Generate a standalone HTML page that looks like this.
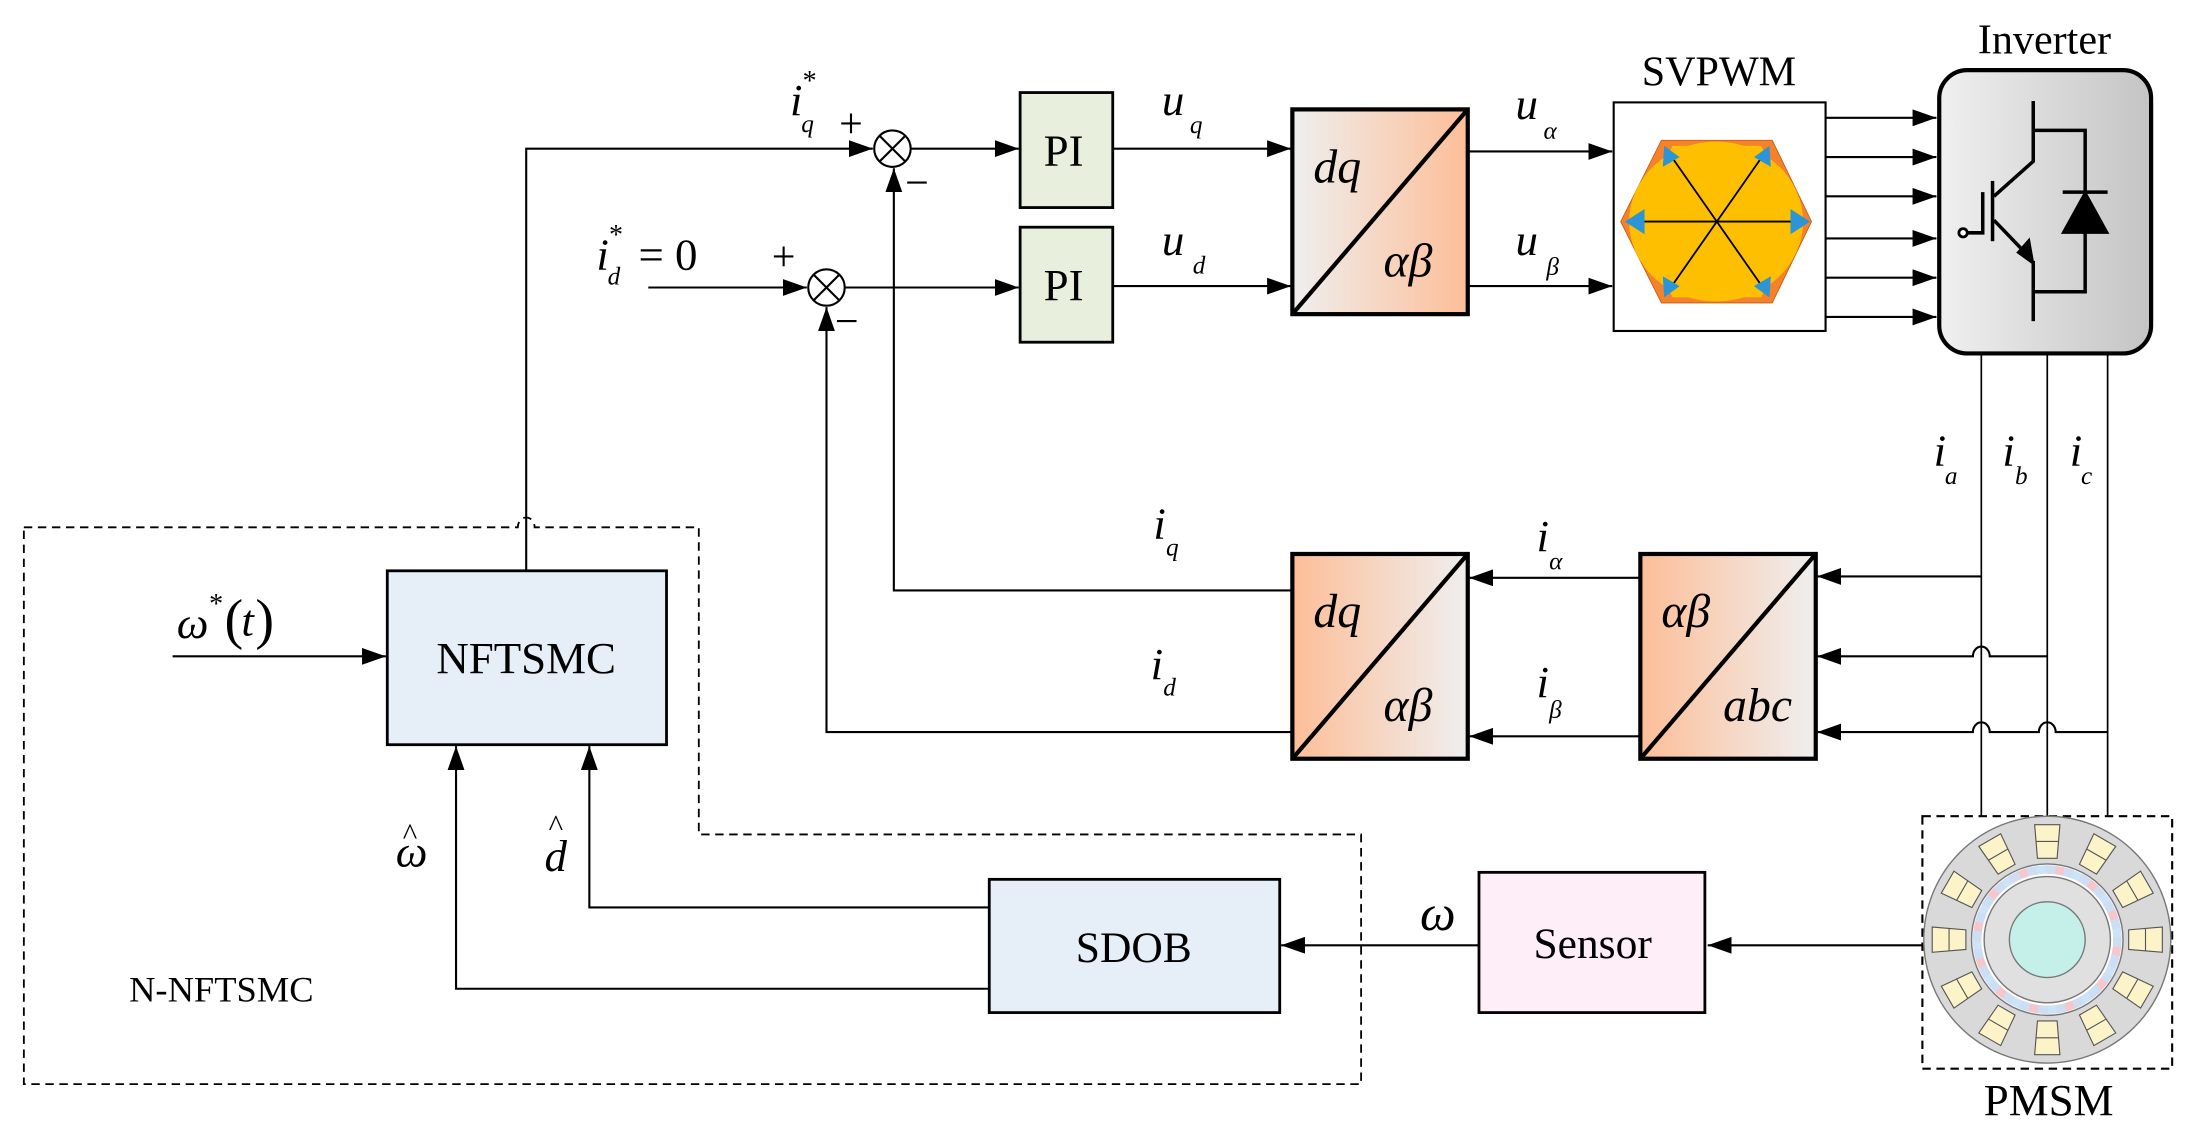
<!DOCTYPE html>
<html><head><meta charset="utf-8"><style>
html,body{margin:0;padding:0;background:#fff;}
svg{display:block;}
text{font-family:"Liberation Serif",serif;fill:#000;}
.it{font-style:italic;}
</style></head><body>
<svg width="2189" height="1136" viewBox="0 0 1560 810" preserveAspectRatio="none" xmlns="http://www.w3.org/2000/svg">
<defs>
<marker id="ar" markerWidth="17" markerHeight="12" refX="17" refY="6" orient="auto" markerUnits="userSpaceOnUse">
<path d="M0,0 L17,6 L0,12 Z" fill="#000"/></marker>
<linearGradient id="gOr" x1="0" x2="1" y1="0" y2="0"><stop offset="0" stop-color="#efefef"/><stop offset="1" stop-color="#fdbe98"/></linearGradient>
<linearGradient id="gOrR" x1="0" x2="1" y1="0" y2="0"><stop offset="0" stop-color="#fdbe98"/><stop offset="1" stop-color="#efefef"/></linearGradient>
<linearGradient id="gGr" x1="0" x2="1" y1="0" y2="0"><stop offset="0" stop-color="#f0f0f0"/><stop offset="1" stop-color="#c4c4c4"/></linearGradient>
</defs>
<g stroke="#000" stroke-width="1.5" fill="none">
<path d="M375,407 V106 H622" marker-end="url(#ar)"/>
<circle cx="636" cy="106" r="13" fill="#fff"/>
<path d="M627,97 L645,115 M645,97 L627,115"/>
<path d="M649,106 H726" marker-end="url(#ar)"/>
<path d="M462,205 H575" marker-end="url(#ar)"/>
<circle cx="589" cy="205" r="13" fill="#fff"/>
<path d="M580,196 L598,214 M598,196 L580,214"/>
<path d="M602,205 H726" marker-end="url(#ar)"/>
<rect x="727" y="66" width="66" height="82" fill="#e8f0dd" stroke-width="2"/>
<rect x="727" y="162" width="66" height="82" fill="#e8f0dd" stroke-width="2"/>
<path d="M793,106 H920" marker-end="url(#ar)"/>
<path d="M793,204 H920" marker-end="url(#ar)"/>
<rect x="921" y="78" width="125" height="146" fill="url(#gOr)" stroke-width="3"/>
<path d="M921,224 L1046,78" stroke-width="3"/>
<path d="M1046,108 H1149" marker-end="url(#ar)"/>
<path d="M1046,204 H1149" marker-end="url(#ar)"/>
<rect x="1150" y="73" width="151" height="163" fill="#fff"/>
<path d="M1301,84 H1380" marker-end="url(#ar)"/>
<path d="M1301,112 H1380" marker-end="url(#ar)"/>
<path d="M1301,140 H1380" marker-end="url(#ar)"/>
<path d="M1301,170 H1380" marker-end="url(#ar)"/>
<path d="M1301,198 H1380" marker-end="url(#ar)"/>
<path d="M1301,226 H1380" marker-end="url(#ar)"/>
<rect x="1382" y="50" width="151" height="202" rx="20" fill="url(#gGr)" stroke-width="3"/>
<g stroke-width="2.5">
<path d="M1449,72 V115 L1421,140"/>
<path d="M1420,129 V172"/>
<path d="M1413,137 V166 H1402"/>
<path d="M1421,157 L1445,182"/>
<path d="M1449,186 V229"/>
<path d="M1449,93 H1486 V208 H1449"/>
<path d="M1470,137 H1502"/>
</g>
<circle cx="1399" cy="166" r="3" fill="#fff" stroke-width="2"/>
<path d="M1486,137 L1502,166 L1470,166 Z" fill="#000"/>
<path d="M1449,188 L1438,180 L1446,171 Z" fill="#000"/>
<path d="M1412,252 V582 M1459,252 V582 M1502,252 V582" stroke-width="1.2"/>
<path d="M1412,411 H1295" marker-end="url(#ar)"/>
<path d="M1459,468 H1418 a6,7 0 0 0 -12,0 H1295" marker-end="url(#ar)"/>
<path d="M1502,522 H1465 a6,7 0 0 0 -12,0 H1418 a6,7 0 0 0 -12,0 H1295" marker-end="url(#ar)"/>
<rect x="1169" y="395" width="125" height="146" fill="url(#gOrR)" stroke-width="3"/>
<path d="M1169,541 L1294,395" stroke-width="3"/>
<rect x="921" y="395" width="125" height="146" fill="url(#gOrR)" stroke-width="3"/>
<path d="M921,541 L1046,395" stroke-width="3"/>
<path d="M1169,412 H1047" marker-end="url(#ar)"/>
<path d="M1169,525 H1047" marker-end="url(#ar)"/>
<path d="M921,421 H637 V120" marker-end="url(#ar)"/>
<path d="M921,522 H589 V219" marker-end="url(#ar)"/>
<rect x="1370" y="582" width="178" height="180" stroke-dasharray="6,4"/>
<path d="M1370,674 H1217" marker-end="url(#ar)"/>
<rect x="1054" y="622" width="161" height="100" fill="#fdeef7" stroke-width="2"/>
<path d="M1054,674 H913" marker-end="url(#ar)"/>
<rect x="705" y="627" width="207" height="95" fill="#e6eef7" stroke-width="2"/>
<path d="M705,647 H420 V532" marker-end="url(#ar)"/>
<path d="M705,705 H325 V532" marker-end="url(#ar)"/>
<rect x="276" y="407" width="199" height="124" fill="#e6eef7" stroke-width="2"/>
<path d="M123,468 H275" marker-end="url(#ar)"/>
<path d="M17,376 H369 a6,7 0 0 1 12,0 H498 V595 H970 V773 H17 Z" stroke-dasharray="6,4" stroke-width="1.3"/>
</g>
<polygon points="1184,100 1263,100 1291,158 1263,216 1184,216 1155,158" fill="#f5822a" stroke="#c05a10" stroke-width="0.6"/>
<ellipse cx="1223" cy="158" rx="62" ry="57" fill="#fdbf00"/>
<polygon points="1192,104 1255,104 1283,158 1255,212 1192,212 1164,158" fill="#fdbf00"/>
<g stroke="#000" stroke-width="1.3">
<path d="M1162,158 H1286 M1190,110 L1257,206 M1257,110 L1190,206"/>
</g>
<g fill="#2b95d8">
<path d="M1158,158 L1172,149 L1172,167 Z"/>
<path d="M1290,158 L1276,149 L1276,167 Z"/>
<path d="M1186,104 L1197,112 L1185,119 Z"/>
<path d="M1261,104 L1262,119 L1250,112 Z"/>
<path d="M1186,212 L1185,197 L1197,204 Z"/>
<path d="M1261,212 L1250,204 L1262,197 Z"/>
</g>
<g transform="translate(1459,670)">
<circle r="88" fill="#d9d9d9" stroke="#777" stroke-width="1"/>
<g fill="#fdf3c8" stroke="#555" stroke-width="0.8">
<g id="slot"><path d="M-9,-82 L9,-82 L7,-58 L-7,-58 Z"/><path d="M-8,-70 L8,-70" fill="none"/></g>
<use href="#slot" transform="rotate(30)"/><use href="#slot" transform="rotate(60)"/><use href="#slot" transform="rotate(90)"/>
<use href="#slot" transform="rotate(120)"/><use href="#slot" transform="rotate(150)"/><use href="#slot" transform="rotate(180)"/>
<use href="#slot" transform="rotate(210)"/><use href="#slot" transform="rotate(240)"/><use href="#slot" transform="rotate(270)"/>
<use href="#slot" transform="rotate(300)"/><use href="#slot" transform="rotate(330)"/>
</g>
<circle r="54" fill="#fff" stroke="#777" stroke-width="1"/>
<circle r="50" fill="none" stroke="#f7c6cc" stroke-width="6" stroke-dasharray="20,6"/>
<circle r="50" fill="none" stroke="#c8e0f7" stroke-width="6" stroke-dasharray="20,6" stroke-dashoffset="26" transform="rotate(45)" opacity="0.9"/>
<circle r="45" fill="#e0e0e0" stroke="#777" stroke-width="1"/>
<circle r="27" fill="#c5f0ea" stroke="#777" stroke-width="1"/>
</g>
<text x="758" y="118" font-size="32" text-anchor="middle">PI</text>
<text x="758" y="214" font-size="32" text-anchor="middle">PI</text>
<text x="1225" y="61" font-size="30" text-anchor="middle">SVPWM</text>
<text x="1457" y="38" font-size="30" text-anchor="middle">Inverter</text>
<text x="1460" y="795" font-size="32" text-anchor="middle">PMSM</text>
<text x="1135" y="683" font-size="31" text-anchor="middle">Sensor</text>
<text x="808" y="686" font-size="31" text-anchor="middle">SDOB</text>
<text x="375" y="480" font-size="32" text-anchor="middle">NFTSMC</text>
<text x="92" y="714" font-size="26">N-NFTSMC</text>
<text x="1012" y="663" font-size="36" class="it">ω</text>
<g class="it" font-size="34">
<text x="936" y="130" class="it">dq</text>
<text x="986" y="197" class="it">αβ</text>
<text x="936" y="447" class="it">dq</text>
<text x="986" y="514" class="it">αβ</text>
<text x="1184" y="447" class="it">αβ</text>
<text x="1228" y="514" class="it">abc</text>
</g>
<g font-size="32">
<text x="563" y="82" class="it">i</text><text x="571" y="94" font-size="18" class="it">q</text><text x="572" y="64" font-size="20">*</text>
<text x="598" y="98" font-size="30">+</text>
<text x="645" y="140" font-size="30">−</text>
<text x="425" y="192" class="it">i</text><text x="433" y="203" font-size="18" class="it">d</text><text x="434" y="174" font-size="20">*</text>
<text x="455" y="192">= 0</text>
<text x="550" y="193" font-size="30">+</text>
<text x="595" y="239" font-size="30">−</text>
<text x="828" y="82" class="it">u</text><text x="848" y="95" font-size="18" class="it">q</text>
<text x="828" y="182" class="it">u</text><text x="850" y="195" font-size="18" class="it">d</text>
<text x="1080" y="85" class="it">u</text><text x="1100" y="99" font-size="18" class="it">α</text>
<text x="1080" y="182" class="it">u</text><text x="1102" y="196" font-size="18" class="it">β</text>
<text x="1378" y="332" class="it">i</text><text x="1386" y="345" font-size="18" class="it">a</text>
<text x="1427" y="332" class="it">i</text><text x="1436" y="345" font-size="18" class="it">b</text>
<text x="1475" y="332" class="it">i</text><text x="1483" y="345" font-size="18" class="it">c</text>
<text x="822" y="384" class="it">i</text><text x="831" y="396" font-size="18" class="it">q</text>
<text x="820" y="484" class="it">i</text><text x="829" y="496" font-size="18" class="it">d</text>
<text x="1095" y="393" class="it">i</text><text x="1104" y="406" font-size="18" class="it">α</text>
<text x="1095" y="497" class="it">i</text><text x="1104" y="512" font-size="18" class="it">β</text>
<text x="126" y="455" class="it">ω</text><text x="149" y="437" font-size="20">*</text>
<text x="160" y="455" font-size="40">(</text><text x="172" y="453" class="it">t</text><text x="182" y="455" font-size="40">)</text>
<text x="282" y="618" class="it">ω</text><text x="287" y="602" font-size="22">^</text>
<text x="388" y="621" class="it">d</text><text x="391" y="596" font-size="22">^</text>
</g>
</svg>
</body></html>
